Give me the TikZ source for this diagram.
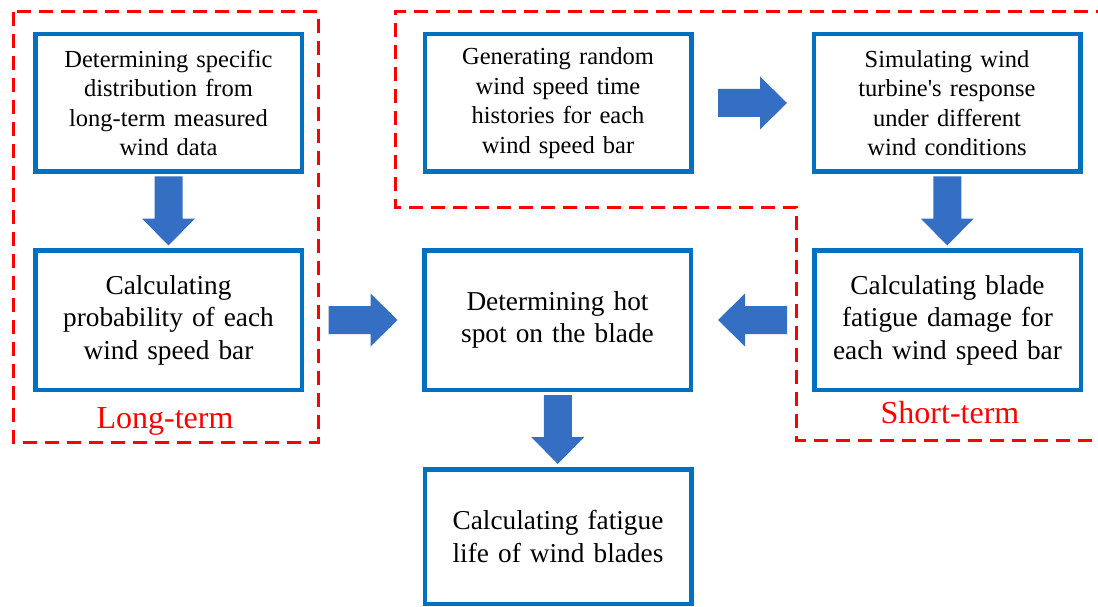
\documentclass[tikz,border=0pt]{standalone}
\usepackage{fontspec}
\setmainfont{Liberation Serif}
\usetikzlibrary{calc}
\definecolor{boxblue}{RGB}{0,112,192}
\definecolor{arrowblue}{RGB}{52,111,196}
\definecolor{dashred}{RGB}{255,0,0}
\begin{document}
\begin{tikzpicture}[x=1pt,y=1pt,
  stepbox/.style={draw=boxblue, line width=4.5pt, fill=white, minimum width=266.5pt,
    inner sep=0pt, align=center, text width=262pt},
  toprow/.style={stepbox, minimum height=137.5pt, font=\fontsize{24.5}{29.5}\selectfont},
  lowrow/.style={stepbox, minimum height=139.5pt, font=\fontsize{27.3}{32.5}\selectfont},
  region/.style={draw=dashred, line width=3pt, dash pattern=on 14pt off 8pt},
  termlabel/.style={text=dashred, font=\fontsize{32}{38}\selectfont, anchor=base, inner sep=0pt},
  fatarrow/.pic={\fill[arrowblue] (-34.5,-14) -- (7.5,-14) -- (7.5,-26.5) -- (34.5,0) -- (7.5,26.5) -- (7.5,14) -- (-34.5,14) -- cycle;}
]
\useasboundingbox (0,0) rectangle (1098,-607);

% dashed regions
\draw[region] (13,-12) rectangle (318,-442);
\draw[region] (1110,-12) -- (395,-12) -- (395,-207) -- (796,-207) -- (796,-440) -- (1110,-440);

% boxes
\node[toprow] (dist) at (168.5,-103) {Determining specific\\distribution from\\long-term measured\\wind data};
\node[toprow] (gen) at (558,-103) {Generating random\\wind speed time\\histories for each\\wind speed bar};
\node[toprow] (sim) at (947,-103) {Simulating wind\\turbine\textquotesingle s response\\under different\\wind conditions};
\node[lowrow] (prob) at (168.5,-320) {Calculating\\probability of each\\wind speed bar};
\node[lowrow] (hot) at (557.5,-320) {Determining hot\\spot on the blade};
\node[lowrow] (dmg) at (947.5,-320) {Calculating blade\\fatigue damage for\\each wind speed bar};
\node[stepbox, minimum height=134.5pt, font=\fontsize{27.3}{32.5}\selectfont] (life) at (558,-536.5) {Calculating fatigue\\life of wind blades};

% labels
\node[termlabel] (lt) at (165,-428) {Long-term};
\node[termlabel] (st) at (950,-423) {Short-term};

% arrows
\path ($(dist.south)!0.5!(prob.north)$) pic[rotate=-90]{fatarrow};
\path ($(gen.east)!0.5!(sim.west)$) pic{fatarrow};
\path ($(sim.south)!0.5!(dmg.north)$) pic[rotate=-90]{fatarrow};
\path ($(prob.east)!0.5!(hot.west)$) pic{fatarrow};
\path ($(dmg.west)!0.5!(hot.east)$) pic[rotate=180]{fatarrow};
\path ($(hot.south)!0.5!(life.north)$) pic[rotate=-90]{fatarrow};
\end{tikzpicture}
\end{document}
